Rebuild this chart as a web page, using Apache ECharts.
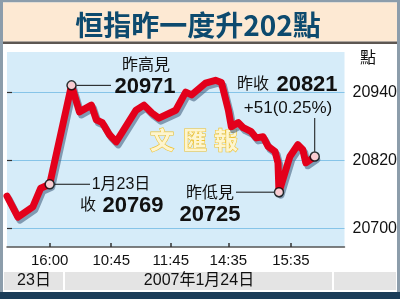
<!DOCTYPE html>
<html><head><meta charset="utf-8">
<script src="https://cdn.jsdelivr.net/npm/echarts@6/dist/echarts.min.js"></script>
<style>html,body{margin:0;padding:0;background:#fff}#c{width:400px;height:299px}</style>
</head><body><div id="c"></div>
<script>
// ---- data ----
const titleText = '恒指昨一度升202點';
const times = [0,11,26,34,43,65,73,85,90,96,103,110,130,138,146,153,170,180,186,200,210,216,223,226,233,238,246,251,258,263,270,273,274,285,293,298,301,310];
const values = [20757,20720,20738,20771,20778,20953,20906,20918,20892,20887,20866,20853,20909,20918,20904,20895,20909,20941,20936,20957,20962,20958,20909,20880,20887,20878,20871,20860,20862,20845,20836,20816,20764,20827,20848,20839,20816,20827];
const tickTimes = [43,105,165,223,286];
const tickLabels = ['16:00','10:45','11:45','14:35','15:35'];
const yTicks = [20700,20820,20940];
const markedIdx = [4,5,32,37];
const dateCells = ['23日','2007年1月24日',''];
const unitLabel = '點';
const watermark = ['文','匯','報'];
const highLabel = ['昨高見','20971'];
const prevCloseLabel = ['1月23日','收','20769'];
const lowLabel = ['昨低見','20725'];
const closeLabel = ['昨收','20821','+51(0.25%)'];

const CJK = '"Noto Sans CJK TC","Noto Sans CJK SC",sans-serif';
const LAT = '"Liberation Sans","Noto Sans CJK TC",sans-serif';
const NAR = '"Liberation Sans Narrow","Liberation Sans",sans-serif';

const chart = echarts.init(document.getElementById('c'), null, {renderer:'canvas'});
chart.setOption({
  animation:false,
  backgroundColor:'#ffffff',
  grid:{left:7,right:53,top:52,bottom:52,show:true,backgroundColor:'#d6ecf9',borderWidth:0},
  xAxis:{type:'value',min:0,max:340,
    axisLine:{show:true,lineStyle:{color:'#555',width:1.5}},
    axisTick:{show:true,inside:true,length:4,customValues:tickTimes,lineStyle:{color:'#333',width:1.5}},
    axisLabel:{customValues:tickTimes,margin:6,fontFamily:NAR,fontSize:15,color:'#111',
      formatter:v=>tickLabels[tickTimes.indexOf(v)] ?? ''},
    splitLine:{show:false}},
  yAxis:{type:'value',position:'right',min:20667,max:21012,
    axisLine:{show:false},
    axisTick:{show:true,inside:false,length:5,customValues:yTicks,lineStyle:{color:'#333',width:1.2}},
    axisLabel:{customValues:yTicks,margin:8,fontFamily:NAR,fontSize:16,color:'#111',formatter:v=>String(v)},
    splitLine:{show:true,lineStyle:{color:'#86c4e8',width:1}}},
  series:[
    {type:'line',data:times.map((t,i)=>[t,values[i]]),symbol:'none',z:2,
      lineStyle:{color:'#e3001b',width:7,cap:'round',join:'round',
        shadowColor:'rgba(70,100,130,0.6)',shadowOffsetX:2,shadowOffsetY:3,shadowBlur:0}},
    {type:'scatter',data:markedIdx.map(i=>[times[i],values[i]]),symbol:'circle',symbolSize:9,z:4,
      itemStyle:{color:'#fff',borderColor:'#000',borderWidth:1.5}}
  ]
});

const P = i => chart.convertToPixel({gridIndex:0},[times[i],values[i]]);
const pc = P(4), ph = P(5), pl = P(32), pe = P(37);
const txt = (text,x,y,size,opt={},z=20) => ({type:'text',z,x,y,style:Object.assign({text,fontSize:size,fontFamily:LAT,fill:'#111',align:'center',verticalAlign:'middle'},opt)});
const line = (x1,y1,x2,y2) => ({type:'line',z:20,shape:{x1,y1,x2,y2},style:{stroke:'#111',lineWidth:1}});
const wm = {fontFamily:CJK,fontWeight:'bold',fill:'#fdf5cf',stroke:'#efc231',lineWidth:1.2};

const g = [
  {type:'rect',z:-5,shape:{x:1.5,y:1,width:397,height:296},style:{fill:'none',stroke:'#8c9dab',lineWidth:3}},
  {type:'rect',z:-4,shape:{x:3,y:2.5,width:394,height:39},style:{fill:'#fde9d3'}},
  {type:'rect',z:-4,shape:{x:3,y:41.5,width:394,height:2.5},style:{fill:'#5d5752'}},
  txt(titleText,198,25,28,{fontFamily:CJK,fontWeight:'bold',fill:'#0d4a6e'}),
  {type:'rect',z:-4,shape:{x:4,y:272,width:59,height:18},style:{fill:'#e4e4e4'}},
  {type:'rect',z:-4,shape:{x:65,y:272,width:267,height:18},style:{fill:'#e4e4e4'}},
  {type:'rect',z:-4,shape:{x:334,y:272,width:62,height:18},style:{fill:'#e4e4e4'}},
  txt(dateCells[0],34,281,16,{fill:'#111'}),
  txt(dateCells[1],199,281,16,{fill:'#111'}),
  txt(dateCells[2],365,281,16),
  {type:'rect',z:-3,shape:{x:0,y:292,width:400,height:7},style:{fill:'#1b3d59'}},
  txt(unitLabel,368,57,16,{fontFamily:CJK}),
  txt(watermark[0],162,140,24,wm,1),
  txt(watermark[1],195,140,24,wm,1),
  txt(watermark[2],226,140,24,wm,1),
  // high
  txt(highLabel[0],146,66,16),
  txt(highLabel[1],145,87,22,{fontWeight:'bold'}),
  line(ph[0]+5,ph[1],111,ph[1]),
  // previous close
  txt(prevCloseLabel[0],121,185,16),
  txt(prevCloseLabel[1],88,206,16),
  txt(prevCloseLabel[2],133,206,22,{fontWeight:'bold'}),
  line(pc[0]+5,pc[1],90,pc[1]),
  // low
  txt(lowLabel[0],210,194,16),
  txt(lowLabel[1],210,215,22,{fontWeight:'bold'}),
  line(236,pl[1],pl[0]-5,pl[1]),
  // close
  txt(closeLabel[0],253,85,16),
  txt(closeLabel[1],307,85,22,{fontWeight:'bold'}),
  txt(closeLabel[2],288,108,17),
  line(pe[0],pe[1]-5,pe[0],118)
];
chart.setOption({graphic:g});
</script></body></html>
